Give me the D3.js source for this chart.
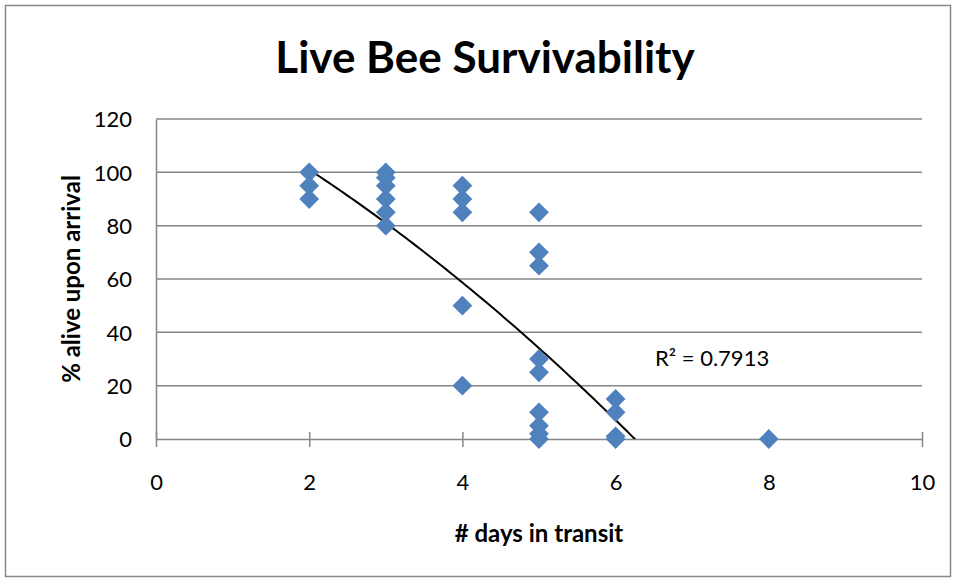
<!DOCTYPE html>
<html>
<head>
<meta charset="utf-8">
<script src="https://cdn.jsdelivr.net/npm/d3@7"></script>
<style>
  body { margin: 0; background: #fff; }
  text { font-family: Lato, "Open Sans", sans-serif; fill: #000; }
</style>
</head>
<body>
<script>
// Data
var days  = [2, 2, 2, 3, 3, 3, 3, 3, 3, 4, 4, 4, 4, 4, 5, 5, 5, 5, 5, 5, 5, 5, 5, 6, 6, 6, 6, 8];
var alive = [100, 95, 90, 100, 98, 95, 90, 85, 80, 95, 90, 85, 50, 20, 85, 70, 65, 30, 25, 10, 5, 2, 0, 15, 10, 1, 0, 0];

// polynomial (order 2) trendline as drawn in the picture: c0 + c1*x + c2*x^2
var trendCoef = [134.1, -14.24, -1.154];
var trendLabel = "R² = 0.7913";

var xTicks = [0, 2, 4, 6, 8, 10];
var yTicks = [0, 20, 40, 60, 80, 100, 120];

var W = 956, H = 580;
var margin = {top: 119, right: 34, bottom: 141, left: 156};
var width = W - margin.left - margin.right;
var height = H - margin.top - margin.bottom;

var svg = d3.select("body").append("svg")
    .attr("width", W)
    .attr("height", H);

// outer chart border
svg.append("rect")
    .attr("x", 5.5).attr("y", 5.5)
    .attr("width", W - 11).attr("height", H - 9)
    .attr("fill", "#fff")
    .attr("stroke", "#888")
    .attr("stroke-width", 1.5);

var g = svg.append("g")
    .attr("transform", `translate(${margin.left},${margin.top})`);

var x = d3.scaleLinear().domain([0, 10]).range([0, width]);
var y = d3.scaleLinear().domain([0, 120]).range([height, 0]);

// gridlines
g.append("g")
    .selectAll("line").data(yTicks.filter(d => d > 0))
    .enter().append("line")
    .attr("x1", 0).attr("x2", width)
    .attr("y1", d => y(d)).attr("y2", d => y(d))
    .attr("stroke", "#868686")
    .attr("stroke-width", 1.5);

// axes
var xAxis = g.append("g")
    .attr("transform", `translate(0,${height})`)
    .call(d3.axisBottom(x).tickValues(xTicks).tickSize(8).tickSizeOuter(0));

var yAxis = g.append("g")
    .call(d3.axisLeft(y).tickValues(yTicks).tickSize(0).tickPadding(24));

[xAxis, yAxis].forEach(function(a) {
    a.select(".domain").attr("stroke", "#868686").attr("stroke-width", 1.5);
    a.selectAll(".tick line").attr("stroke", "#868686").attr("stroke-width", 1.5);
    a.selectAll(".tick text")
        .style("font-family", "Lato, sans-serif")
        .style("font-size", "22px")
        .attr("fill", "#000");
});
// crossing tick marks on the x axis
xAxis.selectAll(".tick line").attr("y1", -7);
xAxis.selectAll(".tick text").attr("y", 51).attr("dy", 0);
yAxis.selectAll(".tick text").attr("dy", "0.35em");

// trendline
g.append("clipPath").attr("id", "plotClip")
  .append("rect").attr("width", width).attr("height", height);

var trendX = d3.range(2, 8.001, 0.05);
g.append("path")
    .datum(trendX)
    .attr("clip-path", "url(#plotClip)")
    .attr("fill", "none")
    .attr("stroke", "#000")
    .attr("stroke-width", 2)
    .attr("d", d3.line()
        .x(d => x(d))
        .y(d => y(trendCoef[0] + trendCoef[1] * d + trendCoef[2] * d * d)));

// markers (diamonds)
var pts = days.map((d, i) => ({x: d, y: alive[i]}));
g.selectAll(".pt").data(pts)
  .enter().append("path")
    .attr("class", "pt")
    .attr("d", d3.symbol().type(d3.symbolSquare).size(196))
    .attr("transform", d => `translate(${x(d.x)},${y(d.y)}) rotate(45)`)
    .attr("fill", "#4F81BD");

// trendline label
svg.append("text")
    .attr("x", 655).attr("y", 366)
    .style("font-size", "22px")
    .text(trendLabel);

// title
svg.append("text")
    .attr("x", 485).attr("y", 73)
    .attr("text-anchor", "middle")
    .style("font-size", "44px")
    .style("font-weight", "bold")
    .text("Live Bee Survivability");

// axis titles
svg.append("text")
    .attr("x", 539).attr("y", 542)
    .attr("text-anchor", "middle")
    .style("font-size", "24px")
    .style("font-weight", "bold")
    .text("# days in transit");

svg.append("text")
    .attr("transform", `translate(80,${margin.top + height / 2}) rotate(-90)`)
    .attr("text-anchor", "middle")
    .style("font-size", "24px")
    .style("font-weight", "bold")
    .text("% alive upon arrival");
</script>
</body>
</html>
